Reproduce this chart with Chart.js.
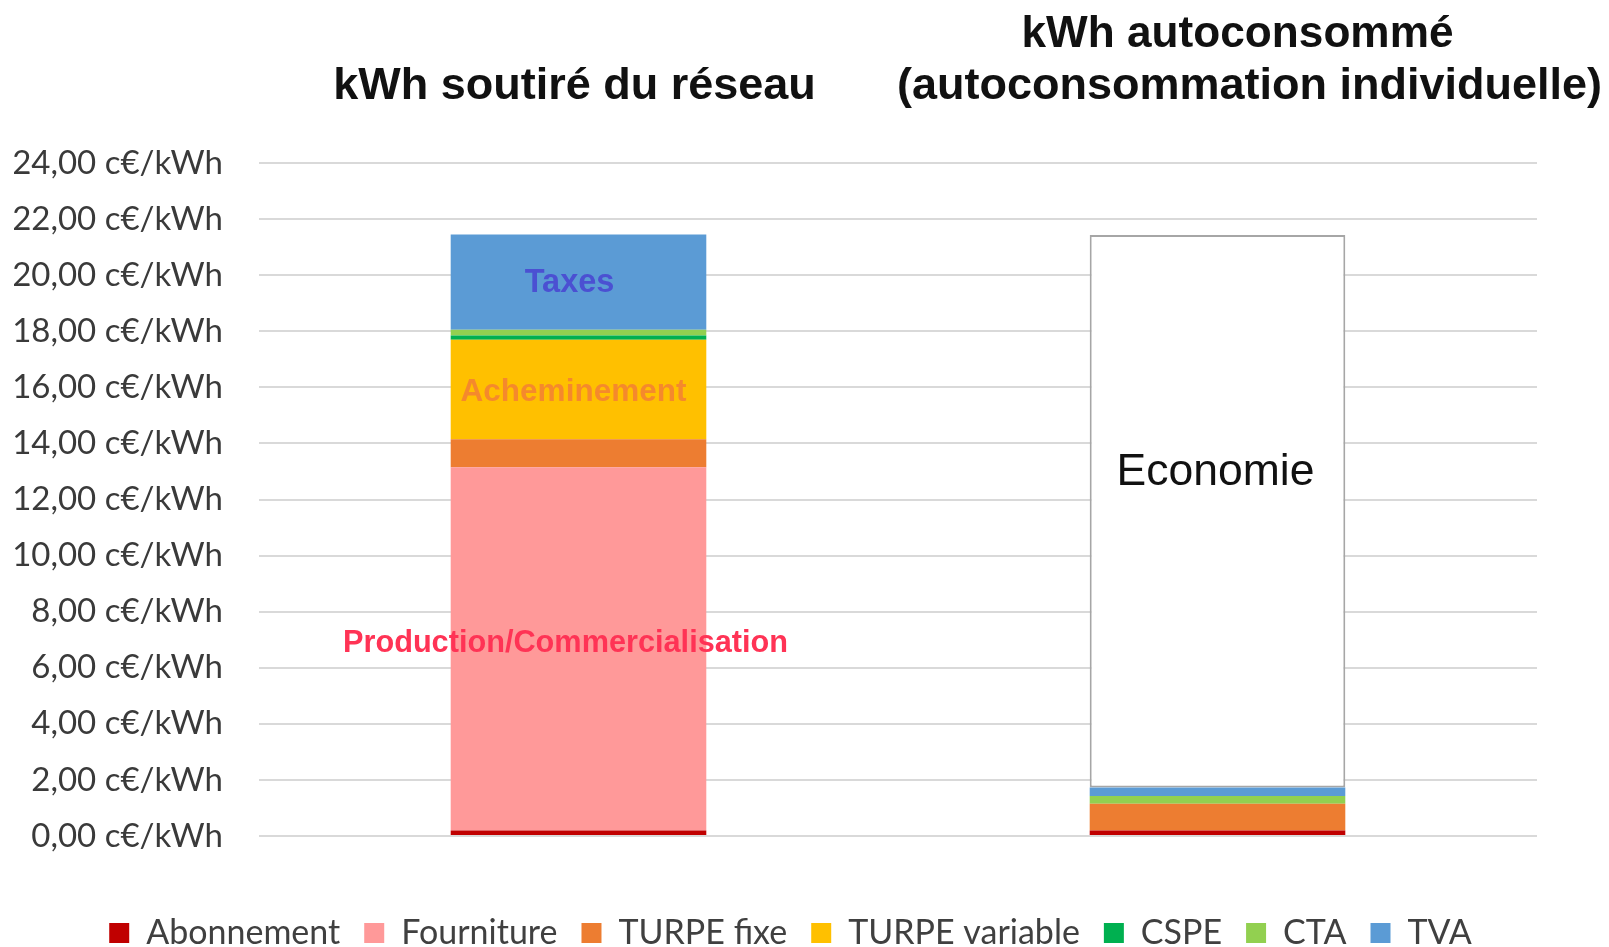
<!DOCTYPE html>
<html>
<head>
<meta charset="utf-8">
<script src="https://cdn.jsdelivr.net/npm/chart.js@4.4.1/dist/chart.umd.min.js"></script>
<style>
  html, body { margin: 0; padding: 0; background: #ffffff; }
  #wrap { width: 1609px; height: 947px; }
</style>
</head>
<body>
<div id="wrap"><canvas id="c" width="1609" height="947"></canvas></div>
<script>
// ---- Data ----
const categories = [["kWh soutiré du réseau"], ["kWh autoconsommé", "(autoconsommation individuelle)"]];
const abonnement    = [0.20, 0.20];
const fourniture    = [12.95, 0];
const turpeFixe     = [1.00, 0.95];
const turpeVariable = [3.55, 0];
const cspe          = [0.15, 0];
const cta           = [0.20, 0.28];
const tva           = [3.40, 0.30];
const economie      = [null, 19.70];
const yTickValues = [0, 2, 4, 6, 8, 10, 12, 14, 16, 18, 20, 22, 24];
const yTickLabels = ["0,00 c€/kWh", "2,00 c€/kWh", "4,00 c€/kWh", "6,00 c€/kWh", "8,00 c€/kWh",
  "10,00 c€/kWh", "12,00 c€/kWh", "14,00 c€/kWh", "16,00 c€/kWh", "18,00 c€/kWh",
  "20,00 c€/kWh", "22,00 c€/kWh", "24,00 c€/kWh"];
const seriesNames = ["Abonnement", "Fourniture", "TURPE fixe", "TURPE variable", "CSPE", "CTA", "TVA", "Economie"];
const annotationTexts = ["Taxes", "Acheminement", "Production/Commercialisation", "Economie"];

const colors = ["#c00000", "#ff9999", "#ed7d31", "#ffc000", "#00b050", "#92d050", "#5b9bd5"];
const seriesData = [abonnement, fourniture, turpeFixe, turpeVariable, cspe, cta, tva];

const datasets = seriesData.map((d, i) => ({
  label: seriesNames[i],
  data: d,
  backgroundColor: colors[i],
  borderWidth: 0,
  stack: "s"
}));
datasets.push({
  label: seriesNames[7],
  data: economie,
  backgroundColor: "#ffffff",
  borderColor: "#a6a6a6",
  borderWidth: 2,
  borderSkipped: false,
  stack: "s"
});

const FAM = "'Liberation Sans', Arial, sans-serif";
const TITLE_FONT = "bold 45px " + FAM;

const annotationPlugin = {
  id: "annot",
  afterLayout(chart) {
    // centre the legend row like the original
    chart.legend.left += 15;
    chart.legend.right += 15;
  },
  afterDatasetsDraw(chart) {
    const ctx = chart.ctx;
    const xs = chart.scales.x, ys = chart.scales.y;
    const items = [
      { t: annotationTexts[0], cat: 0, v: 19.73, dx: -9, color: "#4b50d2", font: "bold 32.5px " + FAM },
      { t: annotationTexts[1], cat: 0, v: 15.83, dx: -5, color: "#f5892c", font: "bold 31.5px " + FAM },
      { t: annotationTexts[2], cat: 0, v: 6.88, dx: -13, color: "#ff3355", font: "bold 30.7px " + FAM },
      { t: annotationTexts[3], cat: 1, v: 12.95, dx: -2, color: "#111111", font: "44.5px " + FAM }
    ];
    ctx.save();
    ctx.textAlign = "center";
    ctx.textBaseline = "middle";
    items.forEach(it => {
      ctx.font = it.font;
      ctx.fillStyle = it.color;
      ctx.fillText(it.t, xs.getPixelForValue(it.cat) + it.dx, ys.getPixelForValue(it.v));
    });
    // category titles above the plot (x axis at top)
    ctx.font = TITLE_FONT;
    ctx.fillStyle = "#111111";
    ctx.textBaseline = "alphabetic";
    const area = chart.chartArea;
    const titleSpecs = [
      [{ dx: -4, dy: -64 }],
      [{ dx: 20, dy: -116, maxW: 432 }, { dx: 32, dy: -64 }]
    ];
    categories.forEach((lines, ci) => {
      const cx = xs.getPixelForValue(ci);
      lines.forEach((line, li) => {
        const spec = titleSpecs[ci][li];
        if (spec.maxW) ctx.fillText(line, cx + spec.dx, area.top + spec.dy, spec.maxW);
        else ctx.fillText(line, cx + spec.dx, area.top + spec.dy);
      });
    });
    ctx.restore();
  }
};

new Chart(document.getElementById("c"), {
  type: "bar",
  data: { labels: categories, datasets },
  plugins: [annotationPlugin],
  options: {
    responsive: false,
    animation: false,
    layout: { padding: { top: 0, right: 72, left: 14, bottom: -13 } },
    datasets: { bar: { barPercentage: 1.0, categoryPercentage: 0.4 } },
    plugins: {
      tooltip: { enabled: false },
      legend: {
        position: "bottom",
        labels: {
          color: "#404040",
          font: { family: "Lato", size: 34 },
          boxWidth: 20,
          boxHeight: 20,
          padding: 24,
          filter: (item) => item.text !== "Economie"
        }
      }
    },
    scales: {
      x: {
        position: "top",
        stacked: true,
        grid: { display: false, drawTicks: false },
        border: { display: false },
        ticks: { display: false },
        afterFit(scale) { scale.height = 163; scale.paddingLeft = 0; scale.paddingRight = 0; }
      },
      xb: {
        position: "bottom",
        type: "category",
        display: true,
        grid: { display: false, drawTicks: false },
        border: { display: false },
        ticks: { display: false },
        afterFit(scale) { scale.height = 56; }
      },
      y: {
        stacked: true,
        min: 0,
        max: 24,
        afterBuildTicks(scale) { scale.ticks = yTickValues.map(v => ({ value: v })); },
        afterFit(scale) { scale.width = 245; },
        grid: { color: "#d9d9d9", lineWidth: 2, drawTicks: false },
        border: { display: false },
        ticks: {
          padding: 36,
          color: "#3a3a3a",
          font: { family: "Lato", size: 33 },
          callback: (v) => yTickLabels[yTickValues.indexOf(v)]
        }
      }
    }
  }
});
</script>
</body>
</html>
